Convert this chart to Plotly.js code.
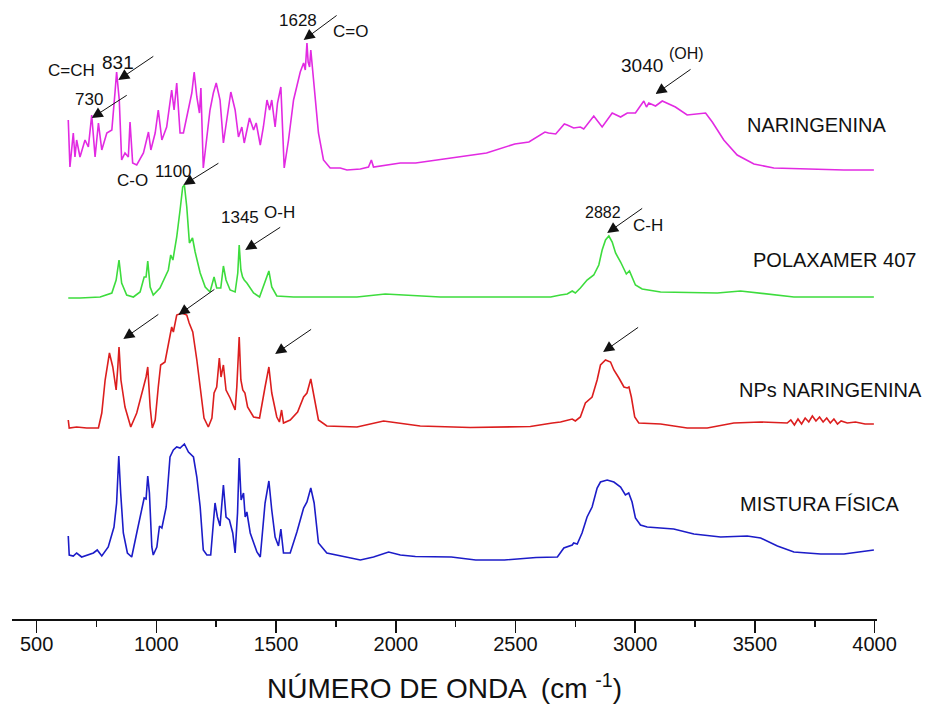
<!DOCTYPE html>
<html>
<head>
<meta charset="utf-8">
<script src="https://cdn.plot.ly/plotly-3.0.1.min.js"></script>
<style>html,body{margin:0;padding:0;background:#fff;}#chart{width:932px;height:715px;}</style>
</head>
<body>
<div id="chart"></div>
<script>
// NARINGENINA (wavenumber cm-1, offset intensity a.u.)
const narWn = [632,639,653,660,667,681,702,716,730,744,758,772,793,814,827,834,845,855,869,883,890,901,918,946,967,977,995,1008,1023,1043,1064,1074,1085,1099,1113,1134,1148,1158,1169,1180,1186,1196,1211,1224,1238,1250,1266,1280,1294,1311,1329,1343,1357,1367,1389,1406,1417,1434,1447,1462,1473,1482,1496,1506,1520,1534,1552,1573,1601,1615,1622,1629,1634,1640,1645,1656,1677,1698,1726,1768,1796,1852,1886,1898,1907,2019,2083,2231,2379,2497,2556,2623,2638,2668,2704,2716,2743,2771,2785,2827,2862,2904,2939,2967,3001,3036,3047,3057,3085,3113,3168,3217,3252,3294,3322,3370,3426,3496,3579,3732,3872,3997];
const narY = [499,452,486,462,479,462,479,472,504,462,496,469,486,489,526,547,519,459,466,462,497,456,454,466,487,469,486,509,479,492,529,509,536,486,486,512,526,547,522,506,531,451,479,509,526,536,519,476,499,527,509,482,492,476,501,489,496,474,492,519,509,519,492,516,532,451,479,519,547,556,549,576,557,552,569,539,486,459,451,451,449,450,452,459,452,456,456,461,466,475,477,487,486,485,495,494,491,492,490,503,492,506,502,506,506,518,512,516,513,518,512,504,505,506,497,479,464,455,451,450,449,449];

// POLAXAMER 407
const polWn = [632,681,765,814,832,844,855,876,904,932,949,957,964,974,987,1015,1050,1060,1069,1085,1099,1110,1117,1127,1138,1151,1162,1183,1204,1224,1241,1252,1269,1280,1291,1308,1329,1340,1346,1353,1360,1367,1378,1406,1431,1454,1470,1482,1503,1573,1698,1838,1956,2019,2186,2437,2647,2688,2716,2737,2750,2771,2799,2827,2848,2862,2876,2890,2904,2918,2939,2963,2976,3001,3029,3106,3245,3343,3440,3524,3663,3803,3942,3997];
const polY = [321,321,322,326,339,359,336,324,322,327,342,342,358,332,324,331,349,364,359,382,409,432,434,412,376,381,367,346,332,327,342,331,331,353,339,329,327,346,374,349,342,339,336,326,322,337,348,332,323,322,322,322,325,324,322,322,322,324,325,328,326,331,339,344,354,369,379,383,377,366,357,345,348,334,330,327,326,326,328,326,322,322,322,322];

// NPs NARINGENINA
const npWn = [632,636,667,709,758,772,786,804,818,832,839,844,852,869,893,918,943,957,964,974,983,995,1008,1018,1036,1054,1064,1071,1085,1106,1127,1137,1152,1169,1186,1199,1217,1232,1241,1252,1263,1270,1280,1291,1308,1329,1336,1346,1353,1361,1370,1381,1406,1431,1454,1470,1482,1503,1514,1523,1531,1559,1590,1615,1629,1645,1659,1677,1712,1838,1949,2019,2102,2311,2562,2654,2688,2737,2750,2771,2792,2820,2841,2855,2876,2897,2911,2932,2953,2967,2974,2984,2998,3015,3106,3217,3301,3412,3524,3635,3650,3665,3680,3695,3710,3725,3740,3755,3770,3785,3800,3815,3830,3845,3860,3886,3920,3960,3997];
const npY = [199,191,192,191,191,206,239,266,252,229,252,272,239,212,192,206,229,242,252,212,191,199,232,254,257,282,292,287,304,306,304,296,287,259,226,201,192,201,226,232,261,242,254,229,221,209,232,282,239,229,226,212,202,201,232,252,226,202,197,209,196,199,207,222,226,240,222,199,193,192,198,196,193,191.5,192.5,196,197,200,198,202,216,222,239,254,259,257,249,241,232,231,232,222,202,196,195,191,191,196,197,196,199,194,200,195,201,197,203,198,202,197,201,196,200,195,198,196,197,195,195];

// MISTURA FÍSICA
const misWn = [632,636,653,667,688,737,753,772,799,823,834,843,851,862,879,897,918,939,949,957,964,971,981,987,1002,1013,1023,1041,1057,1071,1085,1099,1117,1134,1155,1169,1183,1196,1211,1227,1238,1245,1255,1266,1280,1291,1305,1319,1329,1339,1346,1354,1364,1371,1378,1392,1420,1434,1454,1470,1482,1496,1510,1520,1531,1559,1587,1615,1629,1645,1659,1677,1712,1796,1852,1907,1970,2019,2082,2232,2334,2454,2586,2675,2688,2702,2737,2743,2758,2778,2799,2820,2841,2855,2883,2911,2939,2959,2973,2987,3001,3022,3050,3161,3245,3357,3468,3524,3594,3663,3775,3872,3997];
const misY = [83,64,63,66,62,66,69,63,72,92,116,163,126,86,66,62,86,109,121,120,143,126,72,64,72,93,91,112,162,169,172,171,175,167,162,142,112,69,64,64,92,116,102,93,134,102,99,86,66,106,161,119,126,102,107,86,67,62,116,138,109,82,73,90,66,66,87,111,117,131,116,76,66,62,59,62,67,64,62.5,62,59,59,61.5,62,66,71,74,76,75,86,102,112,131,137,139,137,132,124,126,117,101,94,92,90,85,82,83,81,73,67,65,65,69];

const seriesNames = ['NARINGENINA','POLAXAMER 407','NPs NARINGENINA','MISTURA FÍSICA'];
const xTickVals = [500,1000,1500,2000,2500,3000,3500,4000];

const FONT = 'Arial, "Liberation Sans", sans-serif';
const colors = ['#e22ae2','#3ddc3d','#dc1e1e','#1c1cc8'];
const xs = [narWn, polWn, npWn, misWn];
const ys = [narY, polY, npY, misY];

const traces = xs.map((x, i) => ({
  x: x, y: ys[i], type: 'scatter', mode: 'lines', name: seriesNames[i],
  line: {color: colors[i], width: 1.6}, hoverinfo: 'skip'
}));

function lbl(text, x, y, size, anchor) {
  return {text: text, x: x, y: y, xref: 'x', yref: 'y', showarrow: false,
    xanchor: anchor || 'center', yanchor: 'middle',
    font: {family: FONT, size: size, color: '#111'}};
}
function arr(x, y, ax, ay) {
  return {text: ' ', x: x, y: y, xref: 'x', yref: 'y', ax: ax, ay: ay,
    font: {size: 2}, showarrow: true, arrowhead: 2, arrowsize: 2.2, arrowwidth: 1, arrowcolor: '#111', standoff: 0};
}

const annotations = [
  lbl('NARINGENINA', 3460, 494, 20, 'left'),
  lbl('POLAXAMER 407', 3482, 359, 20, 'left'),
  lbl('NPs NARINGENINA', 3425, 229, 20, 'left'),
  lbl('MISTURA FÍSICA', 3430, 115, 20, 'left'),
  lbl('C=CH', 646, 549, 17),
  lbl('831', 838, 557, 19),
  lbl('730', 719, 520, 17),
  lbl('1628', 1590, 599, 17),
  lbl('C=O', 1810, 588, 17),
  lbl('C-O', 900, 439, 17),
  lbl('1100', 1071, 448, 17),
  lbl('1345', 1350, 402, 17),
  lbl('O-H', 1513, 407, 17),
  lbl('3040', 3029, 554, 19),
  lbl('(OH)', 3214, 566, 16),
  lbl('2882', 2865, 407, 16),
  lbl('C-H', 3054, 394, 17),
  arr(841, 539, 37, -25),
  arr(730, 501, 37, -24),
  arr(1615, 579, 35, -26),
  arr(1113, 434, 37, -23),
  arr(1371, 369, 37, -24),
  arr(862, 280, 37, -26),
  arr(1092, 304, 38, -27),
  arr(1496, 265, 38, -26),
  arr(3085, 525, 37, -26),
  arr(2883, 386, 37, -26),
  arr(2866, 267, 37, -26)
];

const layout = {
  width: 932, height: 715,
  margin: {l: 12, r: 55, t: 0, b: 96},
  paper_bgcolor: '#fff', plot_bgcolor: '#fff',
  showlegend: false,
  font: {family: FONT, color: '#111'},
  xaxis: {
    range: [397, 4010], tickvals: xTickVals, ticktext: xTickVals.map(String),
    showgrid: false, zeroline: false, showline: true, linecolor: '#111', linewidth: 1.5,
    ticks: 'outside', ticklen: 12, tickwidth: 1.5, tickcolor: '#111',
    ticklabelstandoff: -6,
    tickfont: {family: FONT, size: 20, color: '#111'},
    minor: {tickvals: [750,1250,1750,2250,2750,3250,3750], ticks: 'outside', ticklen: 6, tickwidth: 1.5, tickcolor: '#111', showgrid: false},
    title: {text: 'NÚMERO DE ONDA  (cm <sup>-1</sup>)', font: {family: FONT, size: 28, color: '#111'}, standoff: 25}
  },
  yaxis: {visible: false, range: [0, 619], fixedrange: true},
  annotations: annotations
};

Plotly.newPlot('chart', traces, layout, {displayModeBar: false, staticPlot: true});
</script>
</body>
</html>
